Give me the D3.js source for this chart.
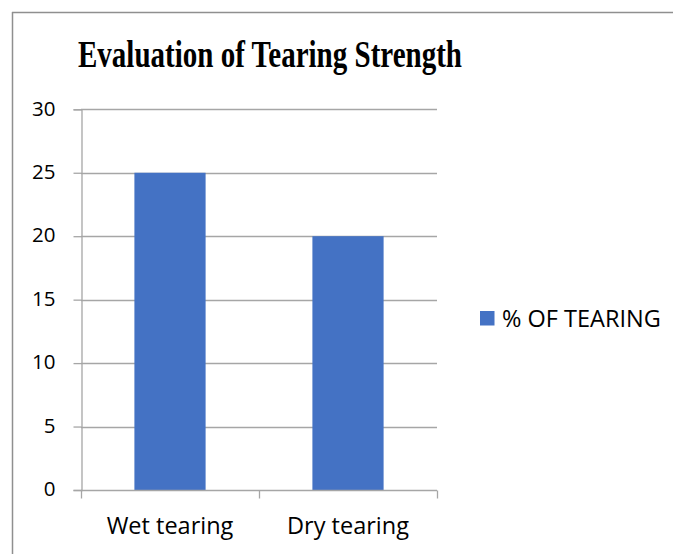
<!DOCTYPE html>
<html>
<head>
<meta charset="utf-8">
<script src="https://cdn.jsdelivr.net/npm/d3@7"></script>
<style>
  html, body { margin: 0; padding: 0; background: #fff; }
  svg { display: block; }
</style>
</head>
<body>
<svg id="chart" width="673" height="554"></svg>
<script>
const title = "Evaluation of Tearing Strength";
const categories = ["Wet tearing", "Dry tearing"];
const values = [25, 20];
const seriesName = "% OF TEARING";
const yTicks = [0, 5, 10, 15, 20, 25, 30];

const svg = d3.select("#chart");
const W = 673, H = 554;
const plot = { left: 81, right: 437, top: 109.3, bottom: 490 };
const barColor = "#4472C4";
const gridColor = "#a6a6a6";
const labelFont = "'Open Sans', 'DejaVu Sans', sans-serif";

// Outer frame (top and left edges visible)
svg.append("line").attr("x1", 12).attr("x2", W).attr("y1", 12.5).attr("y2", 12.5)
  .attr("stroke", "#8f8f8f").attr("stroke-width", 1.5);
svg.append("line").attr("x1", 12.5).attr("x2", 12.5).attr("y1", 12).attr("y2", H)
  .attr("stroke", "#8f8f8f").attr("stroke-width", 1.5);

// Title
svg.append("text")
  .attr("x", 270).attr("y", 66.5)
  .attr("text-anchor", "middle")
  .attr("font-family", "'Liberation Serif', 'Times New Roman', serif")
  .attr("font-weight", "bold")
  .attr("font-size", 37)
  .attr("textLength", 384)
  .attr("lengthAdjust", "spacingAndGlyphs")
  .attr("fill", "#000")
  .text(title);

const x = d3.scaleBand().domain(categories).range([plot.left, plot.right])
  .paddingInner(0.6).paddingOuter(0.3);
const y = d3.scaleLinear().domain([0, 30]).range([plot.bottom, plot.top]);

// Gridlines
svg.append("g").selectAll("line").data(yTicks.filter(d => d > 0)).join("line")
  .attr("x1", plot.left).attr("x2", plot.right)
  .attr("y1", d => Math.round(y(d)) + 0.5).attr("y2", d => Math.round(y(d)) + 0.5)
  .attr("stroke", gridColor).attr("stroke-width", 1.3);

// Y axis
const yAxis = svg.append("g")
  .attr("transform", `translate(${plot.left + 0.5},0)`)
  .call(d3.axisLeft(y).tickValues(yTicks).tickSize(8).tickPadding(18));
yAxis.select(".domain").attr("stroke", gridColor).attr("stroke-width", 1.3);
yAxis.selectAll(".tick line").attr("stroke", gridColor).attr("stroke-width", 1.3);
yAxis.selectAll(".tick text")
  .attr("font-family", labelFont).attr("font-size", 20.5).attr("fill", "#000")
  .attr("dy", "0.28em");

// Bars
svg.append("g").selectAll("rect").data(values).join("rect")
  .attr("x", (d, i) => x(categories[i]))
  .attr("width", x.bandwidth())
  .attr("y", d => y(d))
  .attr("height", d => y(0) - y(d))
  .attr("fill", barColor);

// X axis
const xAxis = svg.append("g")
  .attr("transform", `translate(0,${Math.round(plot.bottom) + 0.5})`)
  .call(d3.axisBottom(x).tickSize(0).tickPadding(0));
xAxis.select(".domain").remove();
xAxis.append("line").attr("x1", plot.left).attr("x2", plot.right)
  .attr("stroke", gridColor).attr("stroke-width", 1.3);
// category boundary ticks
const bounds = [plot.left, (plot.left + plot.right) / 2, plot.right];
xAxis.selectAll(".bound").data(bounds).join("line").attr("class", "bound")
  .attr("x1", d => d + 0.5).attr("x2", d => d + 0.5).attr("y1", 0).attr("y2", 8)
  .attr("stroke", gridColor).attr("stroke-width", 1.3);
xAxis.selectAll(".tick text")
  .attr("font-family", labelFont).attr("font-size", 23.5).attr("fill", "#000")
  .attr("dy", 0).attr("y", 43);

// Legend
const legend = svg.append("g").attr("transform", "translate(480,311)");
legend.append("rect").attr("width", 14.5).attr("height", 14.5).attr("fill", barColor);
legend.append("text").attr("x", 22).attr("y", 15.5)
  .attr("font-family", labelFont).attr("font-size", 23.5).attr("fill", "#000")
  .text(seriesName);
</script>
</body>
</html>
